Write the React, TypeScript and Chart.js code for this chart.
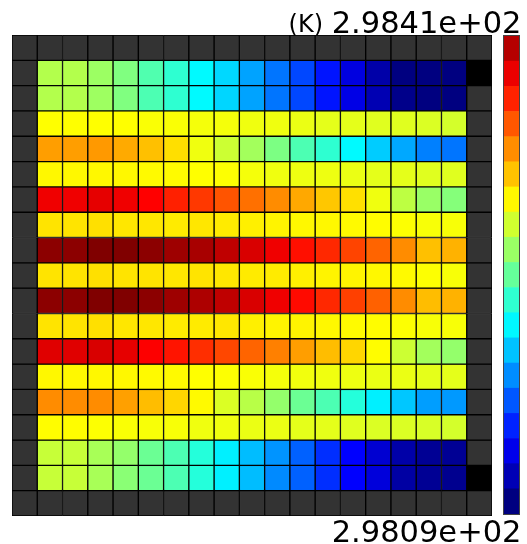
import React, { useEffect, useRef } from "react";
import { Chart, registerables } from "chart.js";

Chart.register(...registerables);

// ---- data ----
const T_MIN = 298.09;
const T_MAX = 298.41;
const LABEL_MAX = "2.9841e+02";
const LABEL_MIN = "2.9809e+02";
const UNIT = "(K)";
const N_LEVELS = 19;
const GRID = 19; // 17 interior cells + frame on each side

const row01 = [298.2660, 298.2660, 298.2590, 298.2500, 298.2350, 298.2244, 298.2084, 298.1978, 298.1812, 298.1668, 298.1524, 298.1364, 298.1204, 298.1028, 298.0900, 298.0900, 298.0900];
const row02 = [298.2660, 298.2660, 298.2596, 298.2500, 298.2340, 298.2244, 298.2084, 298.1972, 298.1812, 298.1668, 298.1524, 298.1364, 298.1220, 298.1060, 298.0932, 298.0900, 298.0900];
const row03 = [298.2900, 298.2900, 298.2900, 298.2900, 298.2884, 298.2884, 298.2868, 298.2868, 298.2852, 298.2852, 298.2836, 298.2820, 298.2820, 298.2804, 298.2804, 298.2788, 298.2766];
const row04 = [298.3204, 298.3204, 298.3220, 298.3166, 298.3098, 298.2999, 298.2852, 298.2740, 298.2612, 298.2490, 298.2340, 298.2244, 298.2084, 298.1940, 298.1828, 298.1700, 298.1668];
const row05 = [298.2922, 298.2922, 298.2922, 298.2922, 298.2916, 298.2913, 298.2900, 298.2894, 298.2868, 298.2852, 298.2846, 298.2846, 298.2836, 298.2820, 298.2820, 298.2804, 298.2804];
const row06 = [298.3748, 298.3748, 298.3780, 298.3748, 298.3700, 298.3601, 298.3524, 298.3436, 298.3348, 298.3260, 298.3172, 298.3076, 298.2996, 298.2852, 298.2692, 298.2580, 298.2516];
const row07 = [298.2986, 298.2986, 298.2996, 298.2974, 298.2974, 298.2964, 298.2974, 298.2964, 298.2948, 298.2935, 298.2922, 298.2922, 298.2916, 298.2906, 298.2894, 298.2878, 298.2878];
const row08 = [298.4060, 298.4060, 298.4100, 298.4100, 298.4060, 298.4004, 298.3972, 298.3900, 298.3820, 298.3748, 298.3652, 298.3575, 298.3486, 298.3386, 298.3260, 298.3098, 298.3140];
const row09 = [298.2986, 298.2986, 298.2996, 298.2986, 298.2986, 298.2974, 298.2986, 298.2974, 298.2964, 298.2964, 298.2948, 298.2935, 298.2935, 298.2922, 298.2916, 298.2894, 298.2878];
const row10 = [298.4060, 298.4060, 298.4100, 298.4100, 298.4060, 298.4004, 298.3956, 298.3900, 298.3820, 298.3748, 298.3668, 298.3575, 298.3498, 298.3396, 298.3260, 298.3108, 298.3140];
const row11 = [298.2986, 298.2986, 298.2996, 298.2974, 298.2974, 298.2964, 298.2964, 298.2974, 298.2948, 298.2935, 298.2935, 298.2922, 298.2913, 298.2906, 298.2894, 298.2878, 298.2878];
const row12 = [298.3796, 298.3796, 298.3820, 298.3780, 298.3706, 298.3636, 298.3556, 298.3476, 298.3386, 298.3300, 298.3204, 298.3108, 298.3028, 298.2906, 298.2740, 298.2612, 298.2564];
const row13 = [298.2922, 298.2922, 298.2922, 298.2922, 298.2916, 298.2916, 298.2900, 298.2894, 298.2884, 298.2868, 298.2858, 298.2852, 298.2846, 298.2836, 298.2836, 298.2820, 298.2820];
const row14 = [298.3260, 298.3260, 298.3260, 298.3198, 298.3108, 298.3028, 298.2916, 298.2788, 298.2676, 298.2564, 298.2436, 298.2340, 298.2212, 298.2052, 298.1924, 298.1796, 298.1780];
const row15 = [298.2906, 298.2906, 298.2894, 298.2884, 298.2878, 298.2878, 298.2852, 298.2852, 298.2836, 298.2836, 298.2820, 298.2820, 298.2804, 298.2788, 298.2788, 298.2778, 298.2766];
const row16 = [298.2724, 298.2724, 298.2628, 298.2564, 298.2436, 298.2340, 298.2212, 298.2052, 298.1892, 298.1764, 298.1604, 298.1444, 298.1300, 298.1156, 298.1028, 298.0964, 298.0964];
const row17 = [298.2724, 298.2724, 298.2628, 298.2532, 298.2436, 298.2340, 298.2212, 298.2052, 298.1892, 298.1732, 298.1604, 298.1444, 298.1300, 298.1188, 298.1012, 298.0964, 298.0948];

const interiorRows = [row01, row02, row03, row04, row05, row06, row07, row08, row09, row10, row11, row12, row13, row14, row15, row16, row17];

// cells of the frame that are drawn black: [row, col]
const blackCells = [[1, 18], [17, 18]];

const FRAME_COLOR = "#333333";
const CELL_EDGE = "#000000";

function jet(t: number): string {
  const c = (x: number) => Math.max(0, Math.min(1, x));
  const r = c(1.5 - Math.abs(4 * t - 3));
  const g = c(1.5 - Math.abs(4 * t - 2));
  const b = c(1.5 - Math.abs(4 * t - 1));
  return `rgb(${Math.round(r * 255)},${Math.round(g * 255)},${Math.round(b * 255)})`;
}

function cellColor(r: number, c: number): string {
  if (blackCells.some(([br, bc]) => br === r && bc === c)) return "#000000";
  if (r === 0 || c === 0 || r === GRID - 1 || c === GRID - 1) return FRAME_COLOR;
  const v = interiorRows[r - 1][c - 1];
  return jet((v - T_MIN) / (T_MAX - T_MIN));
}

const FONT = "'DejaVu Sans', sans-serif";

export default function App() {
  const gridRef = useRef<HTMLCanvasElement>(null);
  const barRef = useRef<HTMLCanvasElement>(null);

  useEffect(() => {
    const idx = Array.from({ length: GRID }, (_, i) => i);
    const grid = new Chart(gridRef.current!, {
      type: "bar",
      data: {
        labels: idx.map(String),
        datasets: idx.map((r) => ({
          data: idx.map(() => [r, r + 1]),
          backgroundColor: idx.map((c) => cellColor(r, c)),
          borderColor: CELL_EDGE,
          borderWidth: 1,
          borderSkipped: false,
          barPercentage: 1,
          categoryPercentage: 1,
          grouped: false,
        })) as any,
      },
      options: {
        animation: false,
        responsive: false,
        devicePixelRatio: 1,
        events: [],
        layout: { padding: 0 },
        plugins: { legend: { display: false }, tooltip: { enabled: false } },
        scales: {
          x: { display: false },
          y: { display: false, min: 0, max: GRID, reverse: true },
        },
      },
    });

    const step = (T_MAX - T_MIN) / N_LEVELS;
    const lv = Array.from({ length: N_LEVELS }, (_, i) => i);
    const bar = new Chart(barRef.current!, {
      type: "bar",
      data: {
        labels: ["K"],
        datasets: lv.map((i) => ({
          data: [[T_MIN + i * step, T_MIN + (i + 1) * step]],
          backgroundColor: jet(i / N_LEVELS),
          borderWidth: 0,
          barPercentage: 1,
          categoryPercentage: 1,
          grouped: false,
        })) as any,
      },
      options: {
        animation: false,
        responsive: false,
        devicePixelRatio: 1,
        events: [],
        layout: { padding: 0 },
        plugins: { legend: { display: false }, tooltip: { enabled: false } },
        scales: {
          x: { display: false },
          y: { display: false, min: T_MIN, max: T_MAX },
        },
      },
    });

    return () => {
      grid.destroy();
      bar.destroy();
    };
  }, []);

  return (
    <div style={{ position: "absolute", left: 0, top: 0, width: 527, height: 544, background: "#fff", overflow: "hidden" }}>
      <canvas ref={gridRef} width={480} height={481} style={{ position: "absolute", left: 12, top: 35 }} />
      <div style={{ position: "absolute", left: 503, top: 35, width: 15, height: 478, border: "1px solid #444" }}>
        <canvas ref={barRef} width={15} height={478} style={{ display: "block" }} />
      </div>
      <div style={{ position: "absolute", right: 204, top: 11.5, font: `24px/24px ${FONT}`, color: "#000", whiteSpace: "nowrap" }}>{UNIT}</div>
      <div style={{ position: "absolute", right: 5.5, top: 7.5, font: `30.5px/30.5px ${FONT}`, color: "#000", whiteSpace: "nowrap" }}>{LABEL_MAX}</div>
      <div style={{ position: "absolute", right: 5.5, top: 517, font: `30.5px/30.5px ${FONT}`, color: "#000", whiteSpace: "nowrap" }}>{LABEL_MIN}</div>
    </div>
  );
}
